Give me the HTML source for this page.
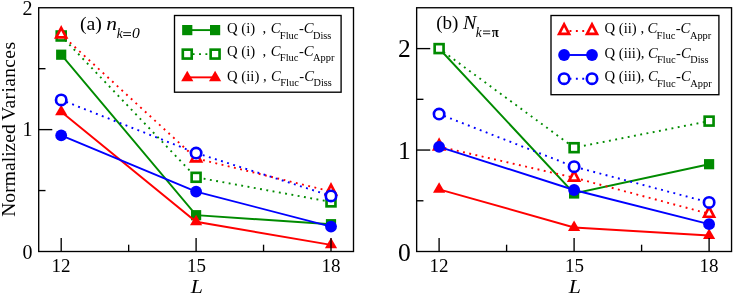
<!DOCTYPE html>
<html><head><meta charset="utf-8"><title>chart</title>
<style>
html,body{margin:0;padding:0;background:#fff;}
svg{display:block;will-change:transform;font-family:"Liberation Serif",serif;}
</style></head><body>
<svg width="734" height="294" viewBox="0 0 734 294">
<rect width="734" height="294" fill="#fff"/>
<polyline points="61.20,54.70 196.10,215.20 331.00,224.20" fill="none" stroke="#008b00" stroke-width="1.9"/>
<rect x="56.10" y="49.60" width="10.20" height="10.20" fill="#008b00"/>
<rect x="191.00" y="210.10" width="10.20" height="10.20" fill="#008b00"/>
<rect x="325.90" y="219.10" width="10.20" height="10.20" fill="#008b00"/>
<polyline points="61.20,36.00 196.10,177.30 331.00,201.90" fill="none" stroke="#008b00" stroke-width="1.9" stroke-dasharray="1.9 4.473" stroke-dashoffset="0.95"/>
<rect x="56.75" y="31.55" width="8.90" height="8.90" fill="#fff" stroke="#008b00" stroke-width="2.65"/>
<rect x="191.65" y="172.85" width="8.90" height="8.90" fill="#fff" stroke="#008b00" stroke-width="2.65"/>
<rect x="326.55" y="197.45" width="8.90" height="8.90" fill="#fff" stroke="#008b00" stroke-width="2.65"/>
<polyline points="61.20,111.80 196.10,221.80 331.00,244.85" fill="none" stroke="#ff0000" stroke-width="1.9"/>
<polygon points="61.20,104.76 55.10,115.32 67.30,115.32" fill="#ff0000"/>
<polygon points="196.10,214.76 190.00,225.32 202.20,225.32" fill="#ff0000"/>
<polygon points="331.00,237.81 324.90,248.37 337.10,248.37" fill="#ff0000"/>
<polyline points="61.20,34.50 196.10,158.40 331.00,191.50" fill="none" stroke="#ff0000" stroke-width="1.9" stroke-dasharray="1.9 4.473" stroke-dashoffset="0.95"/>
<polygon points="61.20,27.90 56.20,37.40 66.20,37.40" fill="#fff" stroke="#ff0000" stroke-width="2.65" stroke-linejoin="miter" stroke-miterlimit="10"/>
<polygon points="196.10,151.80 191.10,161.30 201.10,161.30" fill="#fff" stroke="#ff0000" stroke-width="2.65" stroke-linejoin="miter" stroke-miterlimit="10"/>
<polygon points="331.00,184.90 326.00,194.40 336.00,194.40" fill="#fff" stroke="#ff0000" stroke-width="2.65" stroke-linejoin="miter" stroke-miterlimit="10"/>
<polyline points="61.20,135.40 196.10,191.60 331.00,226.60" fill="none" stroke="#0000ff" stroke-width="1.9"/>
<circle cx="61.20" cy="135.40" r="5.9" fill="#0000ff"/>
<circle cx="196.10" cy="191.60" r="5.9" fill="#0000ff"/>
<circle cx="331.00" cy="226.60" r="5.9" fill="#0000ff"/>
<polyline points="61.20,99.90 196.10,153.00 331.00,195.90" fill="none" stroke="#0000ff" stroke-width="1.9" stroke-dasharray="1.9 4.473" stroke-dashoffset="0.95"/>
<circle cx="61.20" cy="99.90" r="5.2" fill="#fff" stroke="#0000ff" stroke-width="2.65"/>
<circle cx="196.10" cy="153.00" r="5.2" fill="#fff" stroke="#0000ff" stroke-width="2.65"/>
<circle cx="331.00" cy="195.90" r="5.2" fill="#fff" stroke="#0000ff" stroke-width="2.65"/>
<polyline points="439.10,48.50 574.10,193.50 709.10,164.20" fill="none" stroke="#008b00" stroke-width="1.9"/>
<rect x="434.00" y="43.40" width="10.20" height="10.20" fill="#008b00"/>
<rect x="569.00" y="188.40" width="10.20" height="10.20" fill="#008b00"/>
<rect x="704.00" y="159.10" width="10.20" height="10.20" fill="#008b00"/>
<polyline points="439.10,48.60 574.10,147.70 709.10,121.10" fill="none" stroke="#008b00" stroke-width="1.9" stroke-dasharray="1.9 4.473" stroke-dashoffset="0.95"/>
<rect x="434.65" y="44.15" width="8.90" height="8.90" fill="#fff" stroke="#008b00" stroke-width="2.65"/>
<rect x="569.65" y="143.25" width="8.90" height="8.90" fill="#fff" stroke="#008b00" stroke-width="2.65"/>
<rect x="704.65" y="116.65" width="8.90" height="8.90" fill="#fff" stroke="#008b00" stroke-width="2.65"/>
<polyline points="439.10,189.30 574.10,227.50 709.10,235.50" fill="none" stroke="#ff0000" stroke-width="1.9"/>
<polygon points="439.10,182.26 433.00,192.82 445.20,192.82" fill="#ff0000"/>
<polygon points="574.10,220.46 568.00,231.02 580.20,231.02" fill="#ff0000"/>
<polygon points="709.10,228.46 703.00,239.02 715.20,239.02" fill="#ff0000"/>
<polyline points="439.10,146.60 574.10,177.70 709.10,213.80" fill="none" stroke="#ff0000" stroke-width="1.9" stroke-dasharray="1.9 4.473" stroke-dashoffset="0.95"/>
<polygon points="439.10,140.00 434.10,149.50 444.10,149.50" fill="#fff" stroke="#ff0000" stroke-width="2.65" stroke-linejoin="miter" stroke-miterlimit="10"/>
<polygon points="574.10,171.10 569.10,180.60 579.10,180.60" fill="#fff" stroke="#ff0000" stroke-width="2.65" stroke-linejoin="miter" stroke-miterlimit="10"/>
<polygon points="709.10,207.20 704.10,216.70 714.10,216.70" fill="#fff" stroke="#ff0000" stroke-width="2.65" stroke-linejoin="miter" stroke-miterlimit="10"/>
<polyline points="439.10,146.80 574.10,190.00 709.10,224.20" fill="none" stroke="#0000ff" stroke-width="1.9"/>
<circle cx="439.10" cy="146.80" r="5.9" fill="#0000ff"/>
<circle cx="574.10" cy="190.00" r="5.9" fill="#0000ff"/>
<circle cx="709.10" cy="224.20" r="5.9" fill="#0000ff"/>
<polyline points="439.10,114.00 574.10,166.70 709.10,202.40" fill="none" stroke="#0000ff" stroke-width="1.9" stroke-dasharray="1.9 4.473" stroke-dashoffset="0.95"/>
<circle cx="439.10" cy="114.00" r="5.2" fill="#fff" stroke="#0000ff" stroke-width="2.65"/>
<circle cx="574.10" cy="166.70" r="5.2" fill="#fff" stroke="#0000ff" stroke-width="2.65"/>
<circle cx="709.10" cy="202.40" r="5.2" fill="#fff" stroke="#0000ff" stroke-width="2.65"/>
<rect x="38.7" y="7.75" width="314.80" height="243.75" fill="none" stroke="#000" stroke-width="1.35"/>
<line x1="61.2" y1="251.5" x2="61.2" y2="237.9" stroke="#000" stroke-width="1.35"/>
<line x1="196.1" y1="251.5" x2="196.1" y2="237.9" stroke="#000" stroke-width="1.35"/>
<line x1="331.0" y1="251.5" x2="331.0" y2="237.9" stroke="#000" stroke-width="1.35"/>
<line x1="128.65" y1="251.5" x2="128.65" y2="244.7" stroke="#000" stroke-width="1.35"/>
<line x1="263.55" y1="251.5" x2="263.55" y2="244.7" stroke="#000" stroke-width="1.35"/>
<line x1="38.7" y1="129.62" x2="52.300000000000004" y2="129.62" stroke="#000" stroke-width="1.35"/>
<line x1="38.7" y1="190.56" x2="45.5" y2="190.56" stroke="#000" stroke-width="1.35"/>
<line x1="38.7" y1="68.69" x2="45.5" y2="68.69" stroke="#000" stroke-width="1.35"/>
<rect x="416.65" y="7.75" width="314.90" height="243.75" fill="none" stroke="#000" stroke-width="1.35"/>
<line x1="439.1" y1="251.5" x2="439.1" y2="237.9" stroke="#000" stroke-width="1.35"/>
<line x1="574.1" y1="251.5" x2="574.1" y2="237.9" stroke="#000" stroke-width="1.35"/>
<line x1="709.1" y1="251.5" x2="709.1" y2="237.9" stroke="#000" stroke-width="1.35"/>
<line x1="506.60" y1="251.5" x2="506.60" y2="244.7" stroke="#000" stroke-width="1.35"/>
<line x1="641.60" y1="251.5" x2="641.60" y2="244.7" stroke="#000" stroke-width="1.35"/>
<line x1="416.65" y1="150.05" x2="430.25" y2="150.05" stroke="#000" stroke-width="1.35"/>
<line x1="416.65" y1="48.60" x2="430.25" y2="48.60" stroke="#000" stroke-width="1.35"/>
<line x1="416.65" y1="200.78" x2="423.45" y2="200.78" stroke="#000" stroke-width="1.35"/>
<line x1="416.65" y1="99.32" x2="423.45" y2="99.32" stroke="#000" stroke-width="1.35"/>
<text x="32.4" y="258.85" font-size="20" text-anchor="end">0</text>
<text x="410.8" y="260.6" font-size="25.5" text-anchor="end">0</text>
<text x="32.4" y="136.47" font-size="20" text-anchor="end">1</text>
<text x="410.8" y="158.85" font-size="25.5" text-anchor="end">1</text>
<text x="32.4" y="14.6" font-size="20" text-anchor="end">2</text>
<text x="410.8" y="56.9" font-size="25.5" text-anchor="end">2</text>
<text x="61.1" y="272.0" font-size="19" text-anchor="middle">12</text>
<text x="196.5" y="272.0" font-size="19" text-anchor="middle">15</text>
<text x="330.9" y="272.0" font-size="19" text-anchor="middle">18</text>
<text x="439.0" y="272.0" font-size="19" text-anchor="middle">12</text>
<text x="574.5" y="272.0" font-size="19" text-anchor="middle">15</text>
<text x="709.0" y="272.0" font-size="19" text-anchor="middle">18</text>
<text transform="matrix(1.13 0 0 1 190.8 292.5)" font-size="19.4" font-style="italic">L</text>
<text transform="matrix(1.13 0 0 1 568.8 292.5)" font-size="19.4" font-style="italic">L</text>
<text transform="translate(15.1,216.8) rotate(-90)" font-size="19.5" textLength="92.6" lengthAdjust="spacing">Normalized</text><text transform="translate(15.1,120.8) rotate(-90)" font-size="19.5" textLength="78.8" lengthAdjust="spacing">Variances</text>
<text transform="matrix(1.1 0 0 1 79.9 29.6)" font-size="18">(a)</text>
<text transform="matrix(1.19 0 0 1 106.2 29.6)" font-size="18" font-style="italic">n</text>
<text transform="matrix(0.94 0 0 1 116.7 37.6)" font-size="14.2" font-style="italic">k</text>
<text transform="matrix(1.1 0 0 1 131.9 37.6)" font-size="14.2" font-style="italic">0</text>
<text transform="matrix(1.06 0 0 1 436.2 28.6)" font-size="18">(b)</text>
<text transform="matrix(1.117 0 0 1 462.9 28.6)" font-size="18" font-style="italic">N</text>
<text transform="matrix(0.94 0 0 1 475.8 36.6)" font-size="14.2" font-style="italic">k</text>
<text transform="matrix(0.9 0 0 1 491.7 36.7)" font-size="14.2" font-weight="bold">π</text>
<rect x="123.2" y="32.25" width="7.80" height="0.9" fill="#000"/>
<rect x="123.2" y="35.10" width="7.80" height="0.9" fill="#000"/>
<rect x="483.0" y="30.60" width="7.20" height="0.9" fill="#000"/>
<rect x="483.0" y="33.30" width="7.20" height="0.9" fill="#000"/>
<rect x="174.5" y="15.5" width="166.60" height="76.70" fill="#fff" stroke="#000" stroke-width="1.35"/>
<line x1="187.25" y1="30.1" x2="215.1" y2="30.1" stroke="#008b00" stroke-width="1.9"/>
<rect x="182.15" y="25.00" width="10.20" height="10.20" fill="#008b00"/>
<rect x="210.00" y="25.00" width="10.20" height="10.20" fill="#008b00"/>
<text x="227.1" y="32.9" font-size="14.7" xml:space="preserve" style="white-space:pre">Q (i)  , <tspan font-style="italic" dx="0.75">C</tspan><tspan font-size="10.6" dy="5.6" dx="-0.75">Fluc</tspan><tspan dy="-5.6" dx="0.3">-</tspan><tspan font-style="italic">C</tspan><tspan font-size="10.25" dy="5.6" dx="-0.5">Diss</tspan></text>
<line x1="187.25" y1="54.1" x2="215.1" y2="54.1" stroke="#008b00" stroke-width="1.9" stroke-dasharray="1.9 4.473" stroke-dashoffset="0.95"/>
<rect x="182.80" y="49.65" width="8.90" height="8.90" fill="#fff" stroke="#008b00" stroke-width="2.65"/>
<rect x="210.65" y="49.65" width="8.90" height="8.90" fill="#fff" stroke="#008b00" stroke-width="2.65"/>
<text x="227.1" y="55.5" font-size="14.7" xml:space="preserve" style="white-space:pre">Q (i)  , <tspan font-style="italic" dx="0.75">C</tspan><tspan font-size="10.6" dy="5.6" dx="-0.75">Fluc</tspan><tspan dy="-5.6" dx="0.3">-</tspan><tspan font-style="italic">C</tspan><tspan font-size="10.4" dy="5.6" dx="-0.5">Appr</tspan></text>
<line x1="187.25" y1="77.35" x2="215.1" y2="77.35" stroke="#ff0000" stroke-width="1.9"/>
<polygon points="187.25,70.81 181.15,81.37 193.35,81.37" fill="#ff0000"/>
<polygon points="215.10,70.81 209.00,81.37 221.20,81.37" fill="#ff0000"/>
<text x="227.1" y="80.5" font-size="14.7" xml:space="preserve" style="white-space:pre">Q (ii) , <tspan font-style="italic" dx="0.75">C</tspan><tspan font-size="10.6" dy="5.6" dx="-0.75">Fluc</tspan><tspan dy="-5.6" dx="0.3">-</tspan><tspan font-style="italic">C</tspan><tspan font-size="10.25" dy="5.6" dx="-0.5">Diss</tspan></text>
<rect x="551.0" y="15.5" width="167.90" height="79.20" fill="#fff" stroke="#000" stroke-width="1.35"/>
<line x1="564.1" y1="31.0" x2="592.0" y2="31.0" stroke="#ff0000" stroke-width="1.9" stroke-dasharray="1.9 4.473" stroke-dashoffset="0.95"/>
<polygon points="564.10,24.40 559.10,33.90 569.10,33.90" fill="#fff" stroke="#ff0000" stroke-width="2.65" stroke-linejoin="miter" stroke-miterlimit="10"/>
<polygon points="592.00,24.40 587.00,33.90 597.00,33.90" fill="#fff" stroke="#ff0000" stroke-width="2.65" stroke-linejoin="miter" stroke-miterlimit="10"/>
<text x="604.5" y="33.0" font-size="14.7" xml:space="preserve" style="white-space:pre">Q (ii) , <tspan font-style="italic" dx="-0.25">C</tspan><tspan font-size="10.6" dy="5.6" dx="-0.75">Fluc</tspan><tspan dy="-5.6" dx="0.3">-</tspan><tspan font-style="italic">C</tspan><tspan font-size="10.4" dy="5.6" dx="-0.5">Appr</tspan></text>
<line x1="564.1" y1="55.0" x2="592.0" y2="55.0" stroke="#0000ff" stroke-width="1.9"/>
<circle cx="564.10" cy="55.00" r="5.9" fill="#0000ff"/>
<circle cx="592.00" cy="55.00" r="5.9" fill="#0000ff"/>
<text x="604.5" y="57.6" font-size="14.7" xml:space="preserve" style="white-space:pre">Q (iii), <tspan font-style="italic" dx="-0.25">C</tspan><tspan font-size="10.6" dy="5.6" dx="-0.75">Fluc</tspan><tspan dy="-5.6" dx="0.3">-</tspan><tspan font-style="italic">C</tspan><tspan font-size="10.25" dy="5.6" dx="-0.5">Diss</tspan></text>
<line x1="564.1" y1="78.7" x2="592.0" y2="78.7" stroke="#0000ff" stroke-width="1.9" stroke-dasharray="1.9 4.473" stroke-dashoffset="0.95"/>
<circle cx="564.10" cy="78.70" r="5.2" fill="#fff" stroke="#0000ff" stroke-width="2.65"/>
<circle cx="592.00" cy="78.70" r="5.2" fill="#fff" stroke="#0000ff" stroke-width="2.65"/>
<text x="604.5" y="81.0" font-size="14.7" xml:space="preserve" style="white-space:pre">Q (iii), <tspan font-style="italic" dx="-0.25">C</tspan><tspan font-size="10.6" dy="5.6" dx="-0.75">Fluc</tspan><tspan dy="-5.6" dx="0.3">-</tspan><tspan font-style="italic">C</tspan><tspan font-size="10.4" dy="5.6" dx="-0.5">Appr</tspan></text>
</svg>
</body></html>
